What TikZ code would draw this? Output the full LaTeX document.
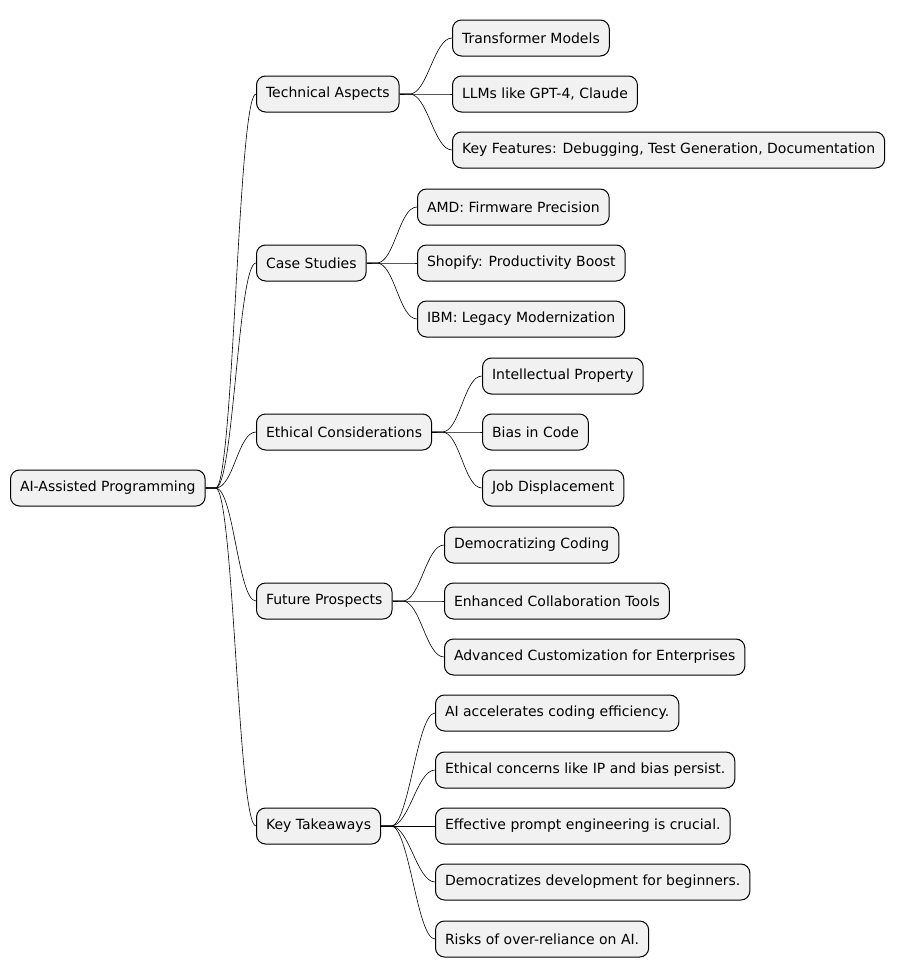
\documentclass[tikz,border=0pt]{standalone}
\usepackage{fontspec}
\setmainfont{DejaVu Sans}
\begin{document}
\begin{tikzpicture}[x=1pt,y=-1pt,
  box/.style={draw=black,line width=1pt,fill={rgb,255:red,241;green,241;blue,241},rounded corners=9pt,minimum height=36pt,inner xsep=9.5pt,anchor=west,font=\fontsize{14pt}{16pt}\selectfont},
  link/.style={draw=black,line width=0.6pt}]
\useasboundingbox (0,0) rectangle (908,977);
\node[box] (r) at (10,488) {AI-Assisted Programming};
\node[box] (ta) at (256,94) {Technical Aspects};
\node[box] (cs) at (256,263) {Case Studies};
\node[box] (ec) at (256,432) {Ethical Considerations};
\node[box] (fp) at (256,601) {Future Prospects};
\node[box] (kt) at (256,826) {Key Takeaways};
\node[box] (ta1) at (452,38) {Transformer Models};
\node[box] (ta2) at (452,94) {LLMs like GPT-4, Claude};
\node[box] (ta3) at (452,150) {Key Features: Debugging, Test Generation, Documentation};
\node[box] (cs1) at (417,207) {AMD: Firmware Precision};
\node[box] (cs2) at (417,263) {Shopify: Productivity Boost};
\node[box] (cs3) at (417,319) {IBM: Legacy Modernization};
\node[box] (ec1) at (482,376) {Intellectual Property};
\node[box] (ec2) at (482,432) {Bias in Code};
\node[box] (ec3) at (482,488) {Job Displacement};
\node[box] (fp1) at (444,545) {Democratizing Coding};
\node[box] (fp2) at (444,601) {Enhanced Collaboration Tools};
\node[box] (fp3) at (444,657) {Advanced Customization for Enterprises};
\node[box] (kt1) at (435,713) {AI accelerates coding efficiency.};
\node[box] (kt2) at (435,770) {Ethical concerns like IP and bias persist.};
\node[box] (kt3) at (435,826) {Effective prompt engineering is crucial.};
\node[box] (kt4) at (435,882) {Democratizes development for beginners.};
\node[box] (kt5) at (435,939) {Risks of over-reliance on AI.};
\foreach \p/\c in {r/ta,r/cs,r/ec,r/fp,r/kt,ta/ta1,ta/ta2,ta/ta3,cs/cs1,cs/cs2,cs/cs3,ec/ec1,ec/ec2,ec/ec3,fp/fp1,fp/fp2,fp/fp3,kt/kt1,kt/kt2,kt/kt3,kt/kt4,kt/kt5}
  \draw[link] (\p.east) -- ++(10,0) .. controls +(18,0) and +(-18,0) .. (\c.west);
\end{tikzpicture}
\end{document}
